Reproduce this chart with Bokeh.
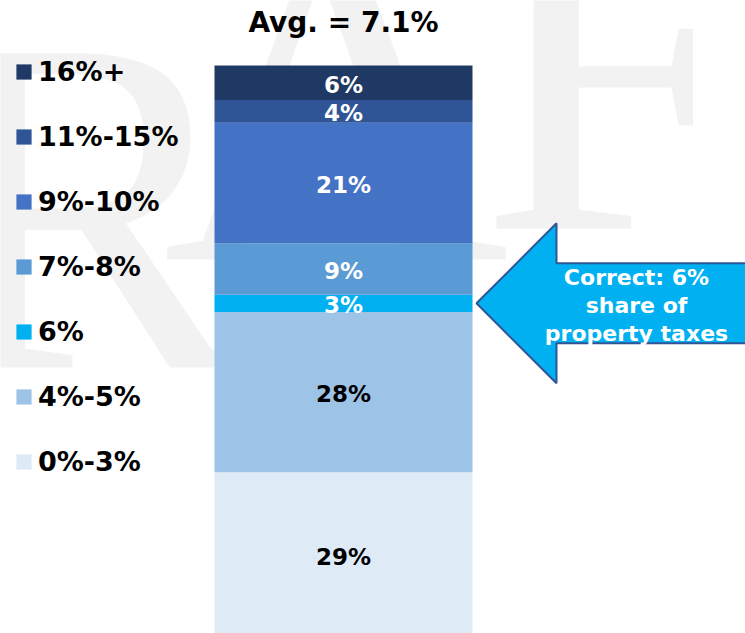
from bokeh.plotting import figure
from bokeh.models import Range1d, ColumnDataSource, Legend, LegendItem, Label
from bokeh.embed import file_html
from bokeh.resources import INLINE
from bokeh.core.properties import value

# ---- data -----------------------------------------------------------
categories = ["0%-3%", "4%-5%", "6%", "7%-8%", "9%-10%", "11%-15%", "16%+"]
shares = [29, 28, 3, 9, 21, 4, 6]
colors = ["#DEEBF7", "#9DC3E6", "#00B0F0", "#5B9BD5", "#4472C4", "#2F5597", "#1F3864"]
label_colors = ["black", "black", "white", "white", "white", "white", "white"]
title_text = "Avg. = 7.1%"
callout_text = "Correct: 6%\nshare of\nproperty taxes"
highlight_category = "6%"
watermark_letters = ["R", "A", "F"]

# ---- layout (pixels) ------------------------------------------------
W, H = 745, 633
PX_PER_PCT = 5.73
BAR_TOP_PX = 65
BAR_LEFT_PX = 214
BAR_W_PX = 258

y_end = 100 + BAR_TOP_PX / PX_PER_PCT
y_start = y_end - H / PX_PER_PCT
x_start = -0.5 - BAR_LEFT_PX / BAR_W_PX
x_end = x_start + W / BAR_W_PX


def px_x(px):
    return x_start + px / BAR_W_PX


def px_y(py):
    return y_end - py / PX_PER_PCT


bottoms, tops, mids = [], [], []
acc = 0
for s in shares:
    bottoms.append(acc)
    tops.append(acc + s)
    mids.append(acc + s / 2)
    acc += s

src = ColumnDataSource(dict(
    cat=categories, share=shares, bottom=bottoms, top=tops, mid=mids,
    color=colors, lcolor=label_colors,
    label=[f"{s}%" for s in shares], x=[0] * len(shares),
))

p = figure(width=W, height=H, output_backend="svg", toolbar_location=None,
           x_range=Range1d(x_start, x_end), y_range=Range1d(y_start, y_end),
           min_border=0, outline_line_color=None)
p.axis.visible = False
p.grid.visible = False
p.background_fill_color = "white"

# ---- watermark (faint, behind everything) ---------------------------
wm_px = [(-75, 205), (162, 97), (479, 66)]
p.text(x=[px_x(a) for a, b in wm_px], y=[px_y(b) for a, b in wm_px],
       text=watermark_letters, text_color="#F2F2F2",
       text_font=value("Liberation Serif"), text_font_size="480px",
       text_align="left", text_baseline="alphabetic")

# ---- stacked bar ----------------------------------------------------
bars = p.vbar(x="x", width=1, bottom="bottom", top="top", fill_color="color",
              line_color=None, source=src)

p.text(x="x", y="mid", text="label", text_color="lcolor", source=src,
       text_font=value("DejaVu Sans"), text_font_style="bold",
       text_font_size="23px", text_align="center", text_baseline="middle",
       y_offset=2)

# ---- title ----------------------------------------------------------
p.add_layout(Label(x=0, y=px_y(22), text=title_text, text_align="center",
                   text_baseline="middle", text_font="DejaVu Sans",
                   text_font_style="bold", text_font_size="28px",
                   text_color="black"))

# ---- callout arrow ---------------------------------------------------
hi = categories.index(highlight_category)
tip_x = 0.5 + 4 / BAR_W_PX
tip_y = mids[hi]
pts = [(0, 0), (80, -80), (80, -40), (320, -40), (320, 40), (80, 40), (80, 80)]
p.patch(x=[tip_x + dx / BAR_W_PX for dx, dy in pts],
        y=[tip_y - dy / PX_PER_PCT for dx, dy in pts],
        fill_color="#00B0F0", line_color="#2F5597", line_width=2)
p.text(x=[tip_x + 160 / BAR_W_PX], y=[tip_y], text=[callout_text],
       text_color="white", text_font=value("DejaVu Sans"),
       text_font_style="bold", text_font_size="22px", text_align="center",
       text_baseline="middle", text_line_height=1.12, y_offset=2)

# ---- legend ---------------------------------------------------------
items = [LegendItem(label=categories[i], renderers=[bars], index=i)
         for i in reversed(range(len(categories)))]
legend = Legend(items=items, location=(14, 156), orientation="vertical",
                glyph_width=19, glyph_height=19, label_standoff=5,
                label_height=32, spacing=33, padding=0, margin=0,
                border_line_color=None, background_fill_alpha=0,
                label_text_font="DejaVu Sans", label_text_font_style="bold",
                label_text_font_size="27px", label_text_color="black")
p.add_layout(legend)

open("out.html", "w").write(file_html(p, INLINE))
